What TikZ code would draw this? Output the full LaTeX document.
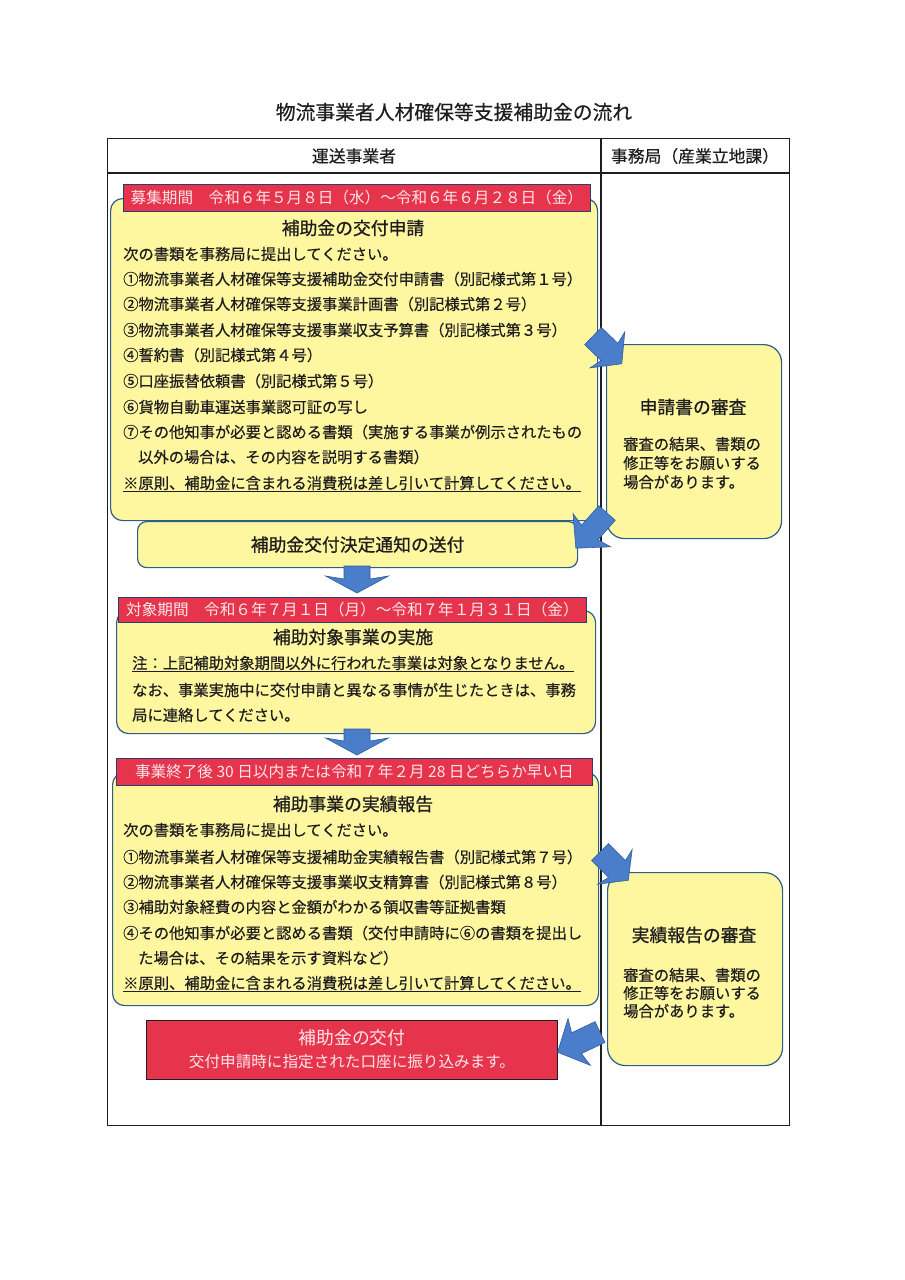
\documentclass[tikz,border=0pt]{standalone}
\usepackage{fontspec}
\setmainfont{Noto Sans CJK JP}
\newfontfamily\bodyfont[FakeBold=0.4]{Noto Sans CJK JP}
\newfontfamily\titlefont[FakeBold=0.8]{Noto Sans CJK JP}
\definecolor{boxyellow}{HTML}{FFF6A0}
\definecolor{boxedge}{HTML}{2C5F87}
\definecolor{bannerred}{HTML}{E5344C}
\definecolor{banneredge}{HTML}{2A3F6E}
\definecolor{bannertext}{HTML}{FCE6EA}
\definecolor{arrowblue}{HTML}{4A7ECB}
\definecolor{arrowedge}{HTML}{2F5E9E}
\definecolor{inkgray}{HTML}{1E1E1E}
% x, y (tail centre), angle, length, shaft width, head width, head length
\newcommand{\flowarrow}[7]{%
  \begin{scope}[shift={(#1,#2)},rotate=#3]
    \filldraw[fill=arrowblue,draw=arrowedge,line width=0.6pt,line join=miter]
      (0,{-#5/2}) -- ({#4-#7+3},{-#5/2}) -- ({#4-#7},{-#6/2}) -- (#4,0)
      -- ({#4-#7},{#6/2}) -- ({#4-#7+3},{#5/2}) -- (0,{#5/2}) -- cycle;
  \end{scope}}
\tikzset{
  ybox/.style={draw=boxedge,fill=boxyellow,line width=1.2pt,rounded corners=12pt,anchor=north west,inner sep=0pt},
  banner/.style={draw=banneredge,fill=bannerred,line width=0.8pt,anchor=north west,inner sep=0pt},
  redbox/.style={draw=inkgray,fill=bannerred,line width=1.4pt,anchor=north west,inner sep=0pt},
  bodytext/.style={font=\bodyfont\fontsize{15.3pt}{18pt}\selectfont,inner sep=0pt,text=inkgray,anchor=west},
  boxtitle/.style={font=\titlefont\fontsize{17.8pt}{20pt}\selectfont,inner sep=0pt,text=inkgray},
  bannerlabel/.style={font=\fontsize{15.6pt}{18pt}\selectfont,inner sep=0pt,text=bannertext},
  headtext/.style={font=\bodyfont\fontsize{16.8pt}{20pt}\selectfont,inner sep=0pt,text=inkgray},
  tableline/.style={draw=inkgray,line width=1.2pt}
}
\begin{document}
\begin{tikzpicture}[x=1pt,y=-1pt]
\useasboundingbox (0,0) rectangle (905,1280);
\fill[white] (0,0) rectangle (905,1280);

% title
\node[font=\bodyfont\fontsize{19.8pt}{22pt}\selectfont,inner sep=0pt,text=inkgray] (title) at (454,112) {物流事業者人材確保等支援補助金の流れ};

% table
\node[tableline,anchor=north west,minimum width=682pt,minimum height=987pt,inner sep=0pt] (table) at (107,138) {};
\coordinate (hl) at (107,173);
\coordinate (hr) at (789,173);
\coordinate (vt) at (601,138);
\coordinate (vb) at (601,1125);
\draw[tableline] (hl) -- (hr);
\draw[tableline] (vt) -- (vb);
\node[headtext] (h1) at (354,156) {運送事業者};
\node[headtext] (h2) at (695,156) {事務局（産業立地課）};

% ---- box 1 ----
\node[ybox,minimum width=487pt,minimum height=322pt] (box1) at (110,198) {};
\node[banner,minimum width=467pt,minimum height=27pt] (ban1) at (123,184) {};
\node[bannerlabel] (ban1t) at (ban1.center) {募集期間　令和６年５月８日（水）～令和６年６月２８日（金）};
\node[boxtitle] (box1t) at (353,228) {補助金の交付申請};
\node[bodytext] (a1) at (123,254) {次の書類を事務局に提出してください。};
\node[bodytext] (a2) at (123,279) {①物流事業者人材確保等支援補助金交付申請書（別記様式第１号）};
\node[bodytext] (a3) at (123,304) {②物流事業者人材確保等支援事業計画書（別記様式第２号）};
\node[bodytext] (a4) at (123,330) {③物流事業者人材確保等支援事業収支予算書（別記様式第３号）};
\node[bodytext] (a5) at (123,355) {④誓約書（別記様式第４号）};
\node[bodytext] (a6) at (123,381) {⑤口座振替依頼書（別記様式第５号）};
\node[bodytext] (a7) at (123,407) {⑥貨物自動車運送事業認可証の写し};
\node[bodytext] (a8) at (123,432) {⑦その他知事が必要と認める書類（実施する事業が例示されたもの};
\node[bodytext] (a9) at (138,457) {以外の場合は、その内容を説明する書類）};
\node[bodytext] (a10) at (123,484) {\underline{※原則、補助金に含まれる消費税は差し引いて計算してください。}};

% ---- notice box ----
\node[ybox,rounded corners=9pt,minimum width=440pt,minimum height=46pt] (box1b) at (137,521) {};
\node[boxtitle] (box1bt) at (box1b.center) {補助金交付決定通知の送付};

% ---- right box 1 ----
\node[ybox,rounded corners=18pt,minimum width=175pt,minimum height=194pt] (rev1) at (606,344) {};
\node[boxtitle] (rev1t) at (693,407) {申請書の審査};
\node[bodytext] (r1a) at (623,444) {審査の結果、書類の};
\node[bodytext] (r1b) at (623,463) {修正等をお願いする};
\node[bodytext] (r1c) at (623,482) {場合があります。};

% ---- box 2 ----
\node[ybox,minimum width=479pt,minimum height=123pt] (box2) at (116,610) {};
\node[banner,minimum width=468pt,minimum height=25pt] (ban2) at (118,597) {};
\node[bannerlabel] (ban2t) at (ban2.center) {対象期間　令和６年７月１日（月）～令和７年１月３１日（金）};
\node[boxtitle] (box2t) at (353,637) {補助対象事業の実施};
\node[bodytext] (b1) at (132,664) {\underline{注：上記補助対象期間以外に行われた事業は対象となりません。}};
\node[bodytext] (b2) at (132,690) {なお、事業実施中に交付申請と異なる事情が生じたときは、事務};
\node[bodytext] (b3) at (132,715) {局に連絡してください。};

% ---- box 3 ----
\node[ybox,minimum width=486pt,minimum height=233pt] (box3) at (112,772) {};
\node[banner,minimum width=476pt,minimum height=27pt] (ban3) at (116,758) {};
\node[bannerlabel] (ban3t) at (ban3.center) {事業終了後 30 日以内または令和７年２月 28 日どちらか早い日};
\node[boxtitle] (box3t) at (353,804) {補助事業の実績報告};
\node[bodytext] (c1) at (123,830) {次の書類を事務局に提出してください。};
\node[bodytext] (c2) at (123,857) {①物流事業者人材確保等支援補助金実績報告書（別記様式第７号）};
\node[bodytext] (c3) at (123,882) {②物流事業者人材確保等支援事業収支精算書（別記様式第８号）};
\node[bodytext] (c4) at (123,907) {③補助対象経費の内容と金額がわかる領収書等証拠書類};
\node[bodytext] (c5) at (123,933) {④その他知事が必要と認める書類（交付申請時に⑥の書類を提出し};
\node[bodytext] (c6) at (138,958) {た場合は、その結果を示す資料など）};
\node[bodytext] (c7) at (123,984) {\underline{※原則、補助金に含まれる消費税は差し引いて計算してください。}};

% ---- right box 2 ----
\node[ybox,rounded corners=18pt,minimum width=175pt,minimum height=193pt] (rev2) at (607,872) {};
\node[boxtitle] (rev2t) at (694,935) {実績報告の審査};
\node[bodytext] (r2a) at (623,975) {審査の結果、書類の};
\node[bodytext] (r2b) at (623,993) {修正等をお願いする};
\node[bodytext] (r2c) at (623,1011) {場合があります。};

% ---- payment box ----
\node[redbox,minimum width=411pt,minimum height=59pt] (pay) at (146,1020) {};
\node[font=\fontsize{17.8pt}{20pt}\selectfont,inner sep=0pt,text=bannertext] (payt) at (352,1038) {補助金の交付};
\node[bannerlabel] (payb) at (352,1062) {交付申請時に指定された口座に振り込みます。};

% ---- block arrows ----
\flowarrow{593}{336}{-44}{40}{24}{50}{20}
\flowarrow{607}{513}{-131.5}{47}{22}{50}{24}
\flowarrow{357}{566}{-90}{27}{26}{63}{17}
\flowarrow{357}{729}{-90}{26}{26}{63}{17}
\flowarrow{600}{852}{-45}{40}{24}{49}{19}
\flowarrow{600}{1032}{-154.5}{47}{23}{52}{24}
\end{tikzpicture}
\end{document}
